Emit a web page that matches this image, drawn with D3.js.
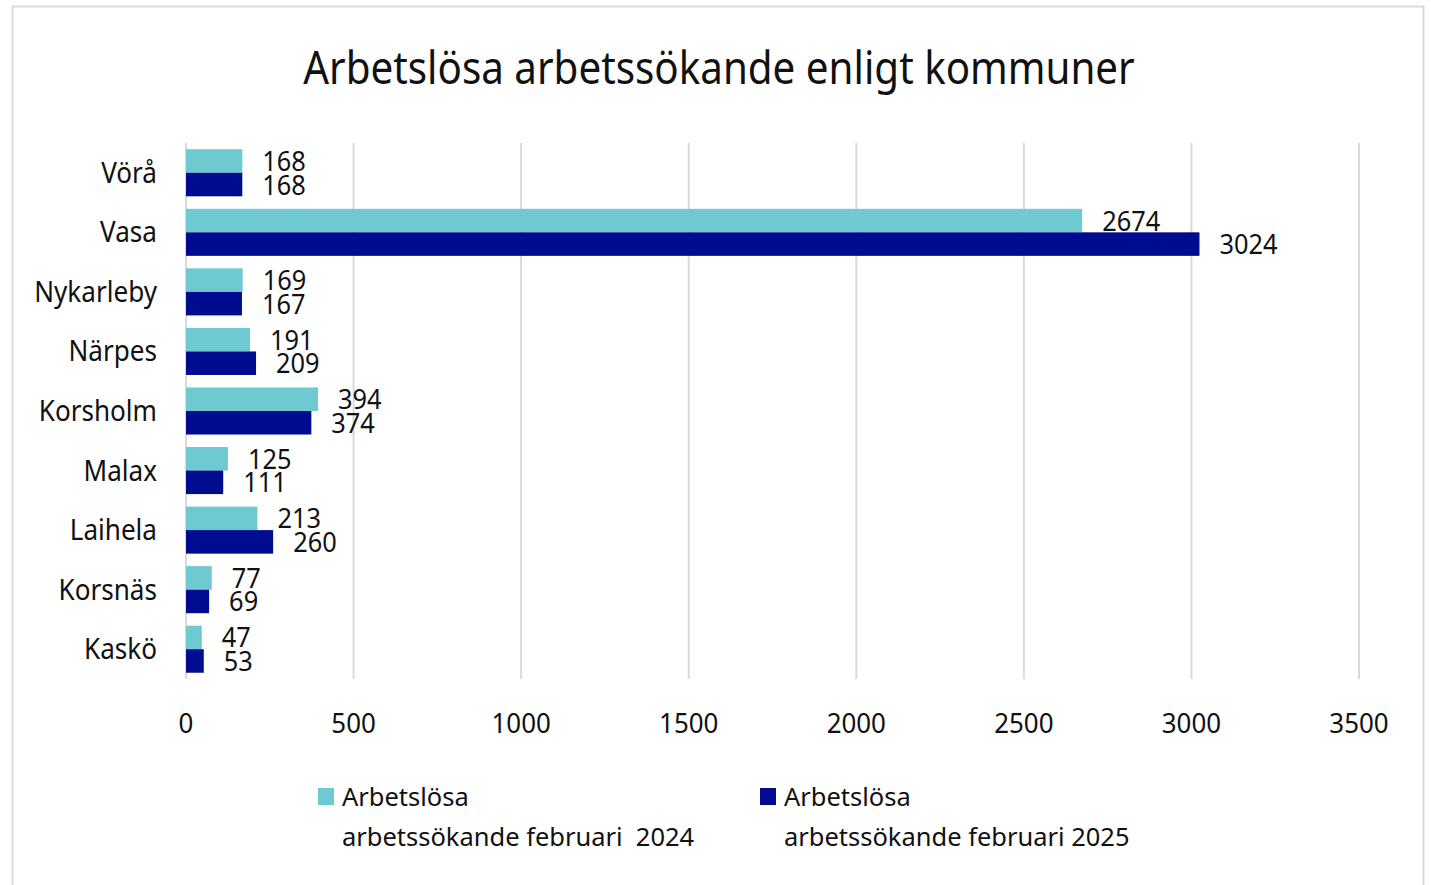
<!DOCTYPE html>
<html>
<head>
<meta charset="utf-8">
<script src="https://cdn.jsdelivr.net/npm/d3@7"></script>
<style>
  html, body { margin: 0; padding: 0; background: #fff; }
  svg { display: block; font-family: "Noto Sans", sans-serif; }
  text { white-space: pre; }
</style>
</head>
<body>
<svg id="chart" width="1431" height="885"></svg>
<script>
const municipalities = ["Vörå", "Vasa", "Nykarleby", "Närpes", "Korsholm", "Malax", "Laihela", "Korsnäs", "Kaskö"];
const feb2024 = [168, 2674, 169, 191, 394, 125, 213, 77, 47];
const feb2025 = [168, 3024, 167, 209, 374, 111, 260, 69, 53];
const xTicks = [0, 500, 1000, 1500, 2000, 2500, 3000, 3500];

const seriesNames = ["feb2024", "feb2025"];
const legendLines = [
  ["Arbetslösa", "arbetssökande februari  2024"],
  ["Arbetslösa", "arbetssökande februari 2025"],
];
const colors = ["#6ec9d1", "#000c8f"];

const W = 1431, H = 885;
const margin = { top: 143, left: 186, right: 72, bottom: 206 };

const svg = d3.select("#chart");

svg.append("rect")
  .attr("x", 12.5).attr("y", 6.5)
  .attr("width", 1411).attr("height", 920)
  .attr("fill", "#fff")
  .attr("stroke", "#d9d9d9")
  .attr("stroke-width", 2);

// original font is narrow, so squeeze text horizontally
function label(g, x, y, txt, size, anchor, sx) {
  return g.append("text")
    .attr("transform", `translate(${x},${y}) scale(${sx},1)`)
    .attr("text-anchor", anchor || "start")
    .attr("font-size", size)
    .attr("fill", "#111")
    .text(txt);
}

label(svg, 719, 84, "Arbetslösa arbetssökande enligt kommuner", 46, "middle", 0.877);

const x = d3.scaleLinear()
  .domain([0, 3500])
  .range([margin.left, 1359]);

const y = d3.scaleBand()
  .domain(municipalities)
  .range([margin.top, H - margin.bottom])
  .paddingInner(0.21)
  .paddingOuter(0.105);

const inner = d3.scaleBand()
  .domain(seriesNames)
  .range([0, y.bandwidth()]);

// gridlines
svg.append("g")
  .selectAll("line")
  .data(xTicks)
  .join("line")
  .attr("x1", d => x(d)).attr("x2", d => x(d))
  .attr("y1", margin.top).attr("y2", H - margin.bottom)
  .attr("stroke", "#d9d9d9")
  .attr("stroke-width", 2);

// x tick labels
const xl = svg.append("g");
xTicks.forEach(t => label(xl, x(t), 733, String(t), 27, "middle", 0.96));

// category labels
const yl = svg.append("g");
municipalities.forEach(m => label(yl, 157, y(m) + y.bandwidth() / 2 + 10, m, 29, "end", 0.9));

// bars
const rows = municipalities.map((m, i) => ({ m, vals: [feb2024[i], feb2025[i]] }));
const groups = svg.append("g")
  .selectAll("g")
  .data(rows)
  .join("g")
  .attr("transform", d => `translate(0,${y(d.m)})`);

groups.selectAll("rect")
  .data(d => d.vals.map((v, j) => ({ v, j })))
  .join("rect")
  .attr("x", x(0))
  .attr("y", d => inner(seriesNames[d.j]))
  .attr("width", d => x(d.v) - x(0))
  .attr("height", inner.bandwidth())
  .attr("fill", d => colors[d.j]);

groups.each(function (d) {
  const g = d3.select(this);
  d.vals.forEach((v, j) => {
    label(g, x(v) + 20, inner(seriesNames[j]) + inner.bandwidth() / 2 + 10, String(v), 27, "start", 0.94);
  });
});

// legend
const legendX = [318, 760];
legendLines.forEach((lines, i) => {
  const g = svg.append("g");
  g.append("rect")
    .attr("x", legendX[i]).attr("y", 788)
    .attr("width", 16).attr("height", 17)
    .attr("fill", colors[i]);
  label(g, legendX[i] + 24, 806, lines[0], 26, "start", 0.98);
  label(g, legendX[i] + 24, 846, lines[1], 26, "start", 0.98);
});
</script>
</body>
</html>
